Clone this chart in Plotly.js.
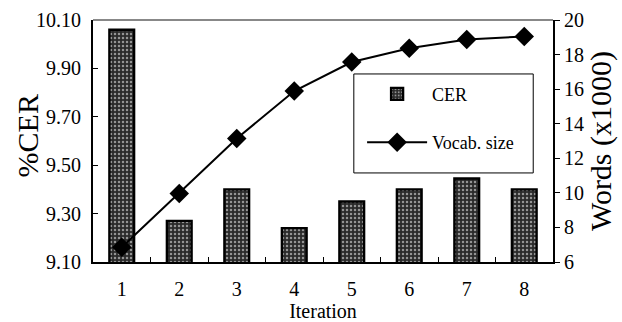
<!DOCTYPE html>
<html>
<head>
<meta charset="utf-8">
<script src="https://cdn.plot.ly/plotly-3.0.1.min.js"></script>
<style>html,body{margin:0;padding:0;background:#fff;}#chart{width:622px;height:322px;}</style>
</head>
<body>
<div id="chart"></div>
<script>
var iterations = ['1','2','3','4','5','6','7','8'];
var cerValues = [10.06, 9.27, 9.40, 9.24, 9.35, 9.40, 9.445, 9.40];
var vocabSize = [6.85, 9.97, 13.14, 15.89, 17.57, 18.37, 18.87, 19.05];
var cerTicks = [9.10, 9.30, 9.50, 9.70, 9.90, 10.10];
var wordTicks = [6, 8, 10, 12, 14, 16, 18, 20];

var serif = "'Liberation Serif'";

var barTrace = {
  type: 'bar', name: 'CER', x: iterations, y: cerValues, yaxis: 'y', legendgroup: 'a',
  width: 0.43,
  marker: {
    color: '#2a2a2a',
    line: {color: '#000', width: 2.4},
    pattern: {shape: '.', fgcolor: '#ffffff', size: 4, solidity: 0.3, fillmode: 'overlay'}
  }
};
var lineTrace = {
  type: 'scatter', mode: 'lines+markers', name: 'Vocab. size', x: iterations, y: vocabSize, yaxis: 'y2', legendgroup: 'b',
  line: {color: '#000', width: 2},
  marker: {symbol: 'diamond', size: 15, color: '#000'}
};

var layout = {
  width: 622, height: 322,
  margin: {l: 93, r: 69, t: 20, b: 60},
  paper_bgcolor: '#fff', plot_bgcolor: '#fff',
  font: {family: serif, color: '#000', size: 19},
  showlegend: true,
  legend: {
    x: 0.585, y: 0.77, xanchor: 'left', yanchor: 'top',
    borderwidth: 0, bgcolor: 'rgba(0,0,0,0)',
    font: {family: serif, size: 18, color: '#000'},
    itemwidth: 60, tracegroupgap: 22
  },
  xaxis: {
    type: 'category', tickson: 'boundaries', ticks: 'inside', ticklen: 5, tickcolor: '#000', tickwidth: 1,
    showline: true, linecolor: '#000', linewidth: 2, showgrid: false, zeroline: false,
    range: [-0.5, 7.5],
    tickfont: {family: serif, size: 20}, ticklabelstandoff: 8,
    title: {text: 'Iteration', font: {family: serif, size: 20}, standoff: 4}
  },
  yaxis: {
    range: [9.10, 10.10], tickvals: cerTicks, tickformat: '.2f',
    ticks: 'inside', ticklen: 5, tickcolor: '#000', tickwidth: 1,
    showline: true, linecolor: '#000', linewidth: 2, showgrid: false, zeroline: false,
    tickfont: {family: serif, size: 20}, ticklabelstandoff: 6
  },
  yaxis2: {
    overlaying: 'y', side: 'right',
    range: [6, 20], tickvals: wordTicks,
    ticks: 'outside', ticklen: 5, tickcolor: '#000', tickwidth: 1,
    showline: true, linecolor: '#000', linewidth: 2, showgrid: false, zeroline: false,
    tickfont: {family: serif, size: 20},
    title: {text: 'Words (x1000)', font: {family: serif, size: 30}, standoff: 2}
  },
  annotations: [
    {text: '%CER', xref: 'paper', yref: 'paper', x: -0.143, y: 0.52, xanchor: 'center', yanchor: 'middle',
     textangle: -90, showarrow: false, font: {family: serif, size: 30, color: '#000'}}
  ],
  shapes: [
    {type: 'line', xref: 'paper', yref: 'paper', x0: 0, x1: 1, y0: 1, y1: 1, line: {color: '#888', width: 2}},
    {type: 'rect', xref: 'paper', yref: 'paper', x0: 0.567, x1: 0.957, y0: 0.368, y1: 0.777, line: {color: '#000', width: 1}, fillcolor: '#fff', layer: 'above'}
  ]
};

Plotly.newPlot('chart', [barTrace, lineTrace], layout, {staticPlot: true, displayModeBar: false});
</script>
</body>
</html>
